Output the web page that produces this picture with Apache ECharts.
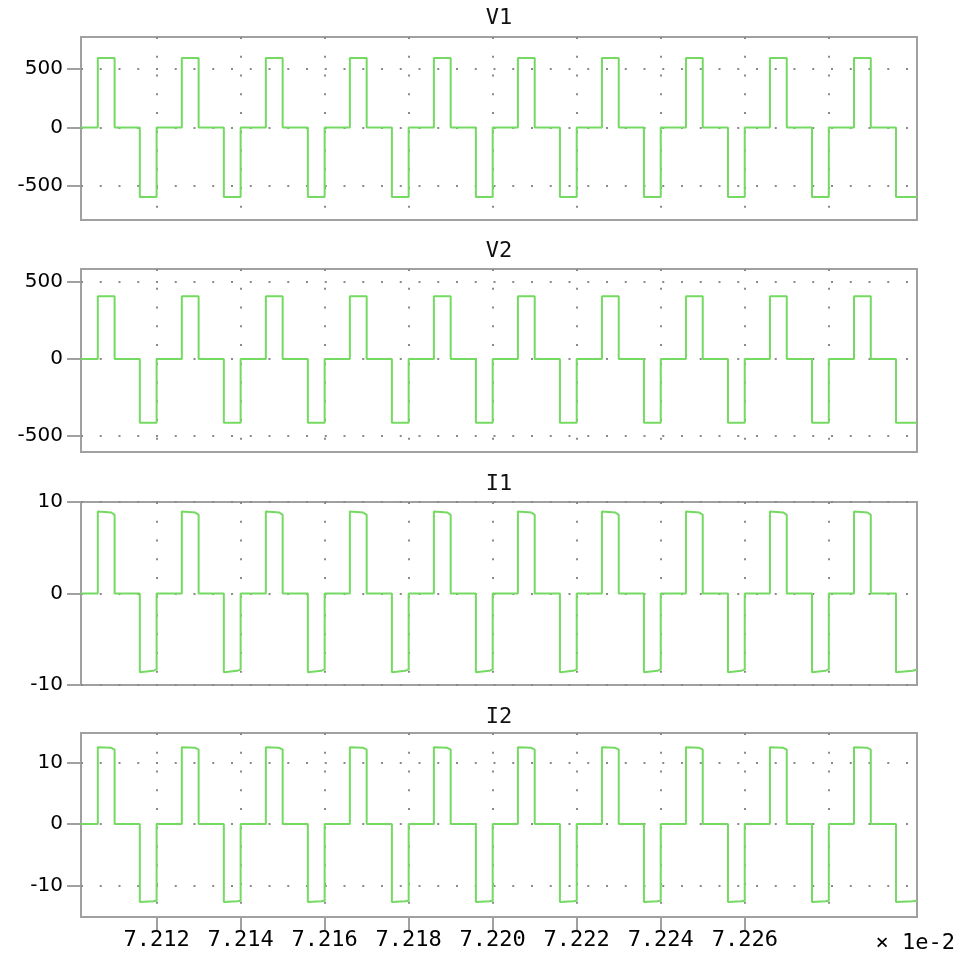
<!DOCTYPE html>
<html>
<head>
<meta charset="utf-8">
<script src="https://cdn.jsdelivr.net/npm/echarts@6/dist/echarts.min.js"></script>
<style>
html,body{margin:0;padding:0;background:#fff;}
#chart{width:963px;height:964px;}
</style>
</head>
<body>
<div id="chart"></div>
<script>
// ---- data (time axis in units of 1e-2 s) ----
const panelTitles = ['V1', 'V2', 'I1', 'I2'];
const xMin = 7.2102;
const xMax = 7.2301;
const xTickValues = [7.212, 7.214, 7.216, 7.218, 7.220, 7.222, 7.224, 7.226];
const xGridValues = [7.212, 7.214, 7.216, 7.218, 7.220, 7.222, 7.224, 7.226, 7.228];
const xUnitLabel = '× 1e-2';

const yTicksV = [-500, 0, 500];
const yTicksI = [-10, 0, 10];
const yMinV1 = -792, yMaxV1 = 774;
const yMinV2 = -604, yMaxV2 = 586;
const yMinI1 = -10, yMaxI1 = 10;
const yMinI2 = -15.1, yMaxI2 = 14.8;

// pulse edge times
const posRise = [7.2106, 7.2126, 7.2146, 7.2166, 7.2186, 7.2206, 7.2226, 7.2246, 7.2266, 7.2286];
const posFall = [7.2110, 7.2130, 7.2150, 7.2170, 7.2190, 7.2210, 7.2230, 7.2250, 7.2270, 7.2290];
const negFall = [7.2116, 7.2136, 7.2156, 7.2176, 7.2196, 7.2216, 7.2236, 7.2256, 7.2276, 7.2296];
const negRise = [7.2120, 7.2140, 7.2160, 7.2180, 7.2200, 7.2220, 7.2240, 7.2260, 7.2280, null];

// pulse plateau levels: at start, near end, at end of each pulse
const plateauPoints = [0, 0.8, 1];
const V1pos = [595, 595, 595],    V1neg = [-595, -595, -595];
const V2pos = [409, 409, 409],    V2neg = [-413, -413, -413];
const I1pos = [8.95, 8.85, 8.6],  I1neg = [-8.6, -8.45, -8.3];
const I2pos = [12.5, 12.4, 12.1], I2neg = [-12.65, -12.55, -12.45];

// ---- build traces from the edge lists ----
function addPulse(pts, t0, t1, levels) {
  pts.push([t0, 0]);
  const end = (t1 == null) ? xMax : t1;
  plateauPoints.forEach((f, i) => pts.push([t0 + f * (end - t0), levels[i]]));
  if (t1 != null) pts.push([t1, 0]);
}
function buildTrace(pos, neg) {
  const pts = [[xMin, 0]];
  for (let k = 0; k < posRise.length; k++) {
    addPulse(pts, posRise[k], posFall[k], pos);
    addPulse(pts, negFall[k], negRise[k], neg);
  }
  return pts;
}
const traces = [buildTrace(V1pos, V1neg), buildTrace(V2pos, V2neg), buildTrace(I1pos, I1neg), buildTrace(I2pos, I2neg)];
const yRanges = [[yMinV1, yMaxV1], [yMinV2, yMaxV2], [yMinI1, yMaxI1], [yMinI2, yMaxI2]];
const yTicks = [yTicksV, yTicksV, yTicksI, yTicksI];

// ---- layout / style ----
const gridTops = [37, 269, 502, 733];
const gridHeights = [183, 183, 183, 184];
const titleY = [18, 251, 484, 717];
const monoFont = '"DejaVu Sans Mono", "Liberation Mono", monospace';
const sansFont = '"DejaVu Sans", Verdana, sans-serif';
const frameColor = '#a0a0a0';
const dotStyle = { color: '#8a8a8a', width: 2, type: [2, 16.75] };
const lineColor = '#74da62';

const grids = [], xAxes = [], yAxes = [], series = [], titles = [];
for (let i = 0; i < 4; i++) {
  grids.push({ left: 81, width: 836, top: gridTops[i], height: gridHeights[i], show: true,
    borderColor: frameColor, borderWidth: 2, backgroundColor: 'transparent', containLabel: false });
  titles.push({ text: panelTitles[i], left: 499, top: titleY[i], textAlign: 'center', textVerticalAlign: 'middle',
    padding: 0, textStyle: { fontFamily: monoFont, fontSize: 22, fontWeight: 'normal', color: '#111' } });
  // grid-line axis (vertical dotted lines) for each panel
  xAxes.push({
    type: 'value', gridIndex: i, min: xMin, max: xMax,
    axisLine: { show: false },
    axisTick: { show: false, customValues: xGridValues },
    axisLabel: { show: false, customValues: xGridValues },
    splitLine: { show: true, lineStyle: dotStyle }
  });
  yAxes.push({
    type: 'value', gridIndex: i, min: yRanges[i][0], max: yRanges[i][1],
    axisLine: { show: false },
    axisTick: { show: true, customValues: yTicks[i], length: 14, lineStyle: { color: frameColor, width: 2 } },
    axisLabel: { show: true, customValues: yTicks[i], margin: 18, fontFamily: sansFont, fontSize: 20, color: '#000' },
    splitLine: { show: true, lineStyle: dotStyle }
  });
}
// labelled time axis on the bottom panel
xAxes.push({
  type: 'value', gridIndex: 3, min: xMin, max: xMax, position: 'bottom',
  axisLine: { show: false },
  axisTick: { show: true, customValues: xTickValues, length: 14, lineStyle: { color: frameColor, width: 2 } },
  axisLabel: { show: true, customValues: xTickValues, margin: 12,
    fontFamily: monoFont, fontSize: 22, color: '#000', formatter: v => v.toFixed(3) },
  splitLine: { show: false }
});
for (let i = 0; i < 4; i++) {
  series.push({
    type: 'line', name: panelTitles[i], xAxisIndex: i, yAxisIndex: i, data: traces[i],
    showSymbol: false, symbol: 'none', clip: true, animation: false,
    lineStyle: { color: lineColor, width: 2 }, z: 3
  });
}

const chart = echarts.init(document.getElementById('chart'), null, { renderer: 'canvas' });
chart.setOption({
  animation: false,
  backgroundColor: '#ffffff',
  title: titles,
  grid: grids,
  xAxis: xAxes,
  yAxis: yAxes,
  series: series,
  graphic: [{
    type: 'text', silent: true,
    style: { text: xUnitLabel, x: 955, y: 943, textAlign: 'right', textVerticalAlign: 'middle',
      align: 'right', verticalAlign: 'middle',
      font: '22px "DejaVu Sans Mono", monospace', fill: '#000' }
  }]
});
</script>
</body>
</html>
